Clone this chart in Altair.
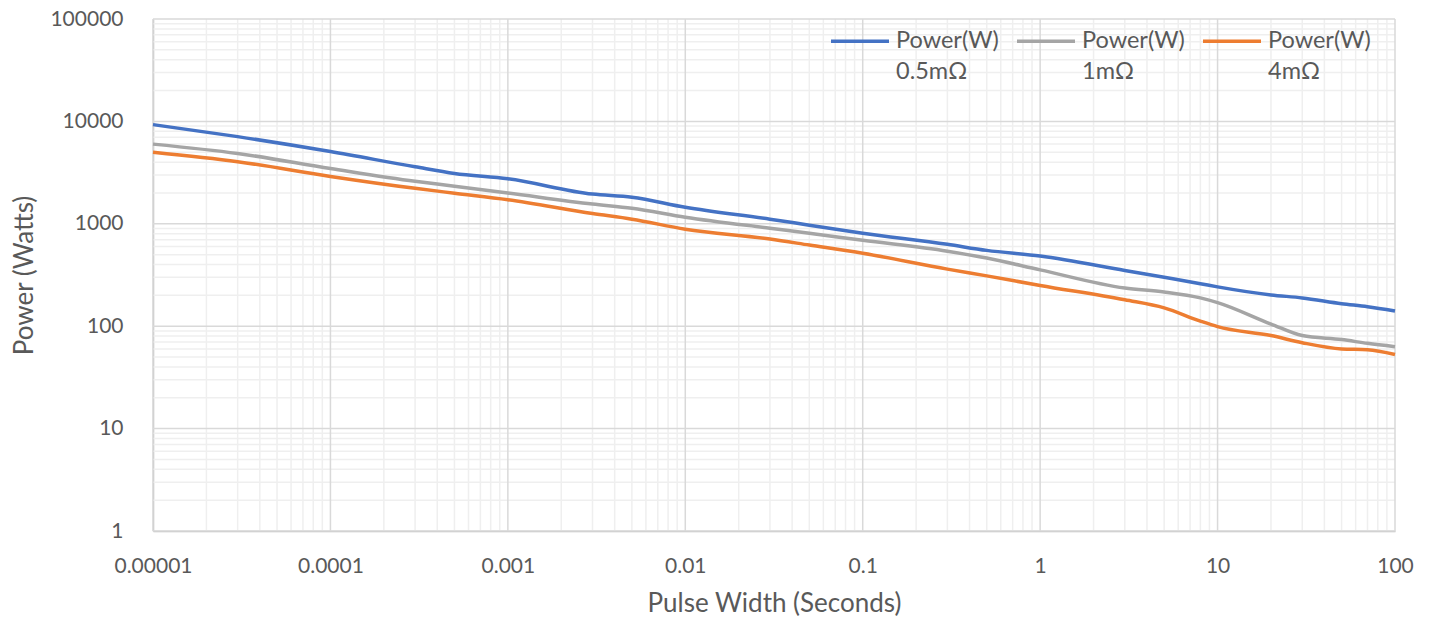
import altair as alt
import pandas as pd

# Data
pulse_width = [1e-5, 3e-5, 1e-4, 3e-4, 5e-4, 1e-3, 3e-3, 5e-3, 1e-2, 3e-2, 5e-2,
               0.1, 0.3, 0.5, 1, 3, 5, 8, 10, 20, 30, 50, 70, 100]
power_05 = [9300, 7100, 5080, 3600, 3100, 2750, 1950, 1820, 1450, 1110, 970,
            810, 630, 550, 484, 350, 300, 260, 242, 202, 189, 166, 155, 141]
power_1 = [6000, 4860, 3470, 2600, 2330, 2000, 1560, 1420, 1160, 905, 810,
           690, 540, 463, 355, 236, 216, 189, 170, 105, 81, 74, 68, 63]
power_4 = [5000, 4040, 2900, 2220, 1990, 1720, 1260, 1110, 885, 710, 620,
           515, 361, 310, 250, 181, 151, 112, 99, 81, 69, 60, 59, 53]
series_names = ["Power(W) 0.5mΩ", "Power(W) 1mΩ", "Power(W) 4mΩ"]
series_colors = ["#4472C4", "#A5A5A5", "#ED7D31"]

x_major = [1e-5, 1e-4, 1e-3, 1e-2, 1e-1, 1, 10, 100]
y_major = [1, 10, 100, 1000, 10000, 100000]
x_minor = [m * d for d in x_major[:-1] for m in range(2, 10)]
y_minor = [m * d for d in y_major[:-1] for m in range(2, 10)]

rows = []
for name, vals in zip(series_names, [power_05, power_1, power_4]):
    for xv, yv in zip(pulse_width, vals):
        rows.append({"x": xv, "y": yv, "series": name})
df = pd.DataFrame(rows)

FONT = "Lato"
LABEL_COLOR = "#595959"

xscale = alt.Scale(type="log", domain=[1e-5, 100], nice=False)
yscale = alt.Scale(type="log", domain=[1, 100000], nice=False)

xaxis = alt.Axis(values=x_major, title="Pulse Width (Seconds)",
                 labelExpr="format(datum.value, '.5~f')",
                 grid=False, ticks=False, labelPadding=24,
                 domainColor="#BFBFBF", domainWidth=1.5,
                 labelFontSize=21, titleFontSize=26,
                 titleY=80, titleBaseline="alphabetic", labelFlush=False)
yaxis = alt.Axis(values=y_major, title="Power (Watts)", format="d",
                 grid=False, ticks=False, labelPadding=30,
                 domainColor="#BFBFBF", domainWidth=1.5,
                 labelFontSize=21, titleFontSize=26,
                 titleX=-121, titleBaseline="alphabetic", labelFlush=False)

X = alt.X("x:Q", scale=xscale, axis=xaxis, title="Pulse Width (Seconds)")
Y = alt.Y("y:Q", scale=yscale, axis=yaxis, title="Power (Watts)")

vminor = alt.Chart(pd.DataFrame({"x": x_minor})).mark_rule(
    color="#EFEFEF", strokeWidth=1.5
).encode(x=X)
hminor = alt.Chart(pd.DataFrame({"y": y_minor})).mark_rule(
    color="#EFEFEF", strokeWidth=1.5
).encode(y=Y)
vmajor = alt.Chart(pd.DataFrame({"x": x_major})).mark_rule(
    color="#D9D9D9", strokeWidth=1.5
).encode(x=X)
hmajor = alt.Chart(pd.DataFrame({"y": y_major})).mark_rule(
    color="#D9D9D9", strokeWidth=1.5
).encode(y=Y)

lines = alt.Chart(df).mark_line(strokeWidth=3.5, interpolate="monotone").encode(
    x=X,
    y=Y,
    color=alt.Color("series:N", sort=series_names,
                    scale=alt.Scale(domain=series_names, range=series_colors),
                    legend=alt.Legend(
                        title=None, orient="none", direction="horizontal",
                        legendX=676, legendY=-9, columns=3,
                        symbolType="stroke", symbolSize=3364,
                        symbolStrokeWidth=3.5, labelFontSize=23.5,
                        labelExpr="split(datum.label, ' ')",
                        labelBaseline="middle", labelOffset=5,
                        columnPadding=11, labelLimit=200)),
    order=alt.Order("series:N"),
)

chart = alt.layer(vminor, hminor, vmajor, hmajor, lines).properties(
    width=1242, height=512,
    autosize=alt.AutoSizeParams(type="none"),
    padding={"left": 145, "top": 11, "right": 26, "bottom": 87},
).configure(
    style={"guide-label": {"lineHeight": 31}}
).configure_axis(
    labelFont=FONT, titleFont=FONT, labelColor=LABEL_COLOR, titleColor=LABEL_COLOR,
    titleFontWeight="normal",
).configure_legend(
    labelFont=FONT, labelColor=LABEL_COLOR,
).configure_view(stroke=None)

chart.save("out.html", embed_options={"renderer": "svg", "actions": False})
